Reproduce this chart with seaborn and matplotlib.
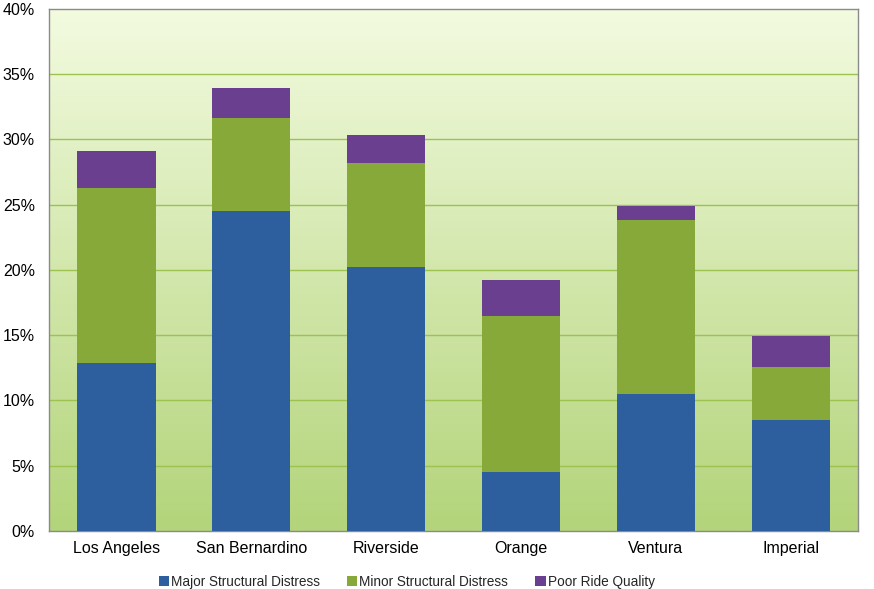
import numpy as np
import pandas as pd
import matplotlib
matplotlib.use('Agg')
import matplotlib.pyplot as plt
import seaborn as sns
from matplotlib.colors import LinearSegmentedColormap

# data (percent)
counties = ['Los Angeles', 'San Bernardino', 'Riverside', 'Orange', 'Ventura', 'Imperial']
major = [12.9, 24.5, 20.2, 4.5, 10.5, 8.5]
minor = [13.4, 7.1, 8.0, 12.0, 13.3, 4.1]
poor = [2.8, 2.3, 2.1, 2.7, 1.1, 2.3]
yticks = [0, 5, 10, 15, 20, 25, 30, 35, 40]

df = pd.DataFrame({'county': counties, 'major': major, 'minor': minor, 'poor': poor})
df['lvl1'] = df['major']
df['lvl2'] = df['major'] + df['minor']
df['lvl3'] = df['lvl2'] + df['poor']

sns.set_style('white')
plt.rcParams['font.family'] = ['Liberation Sans', 'DejaVu Sans']

fig = plt.figure(figsize=(8.74, 5.89), dpi=100)
ax = fig.add_axes([0.056, 0.0985, 0.926, 0.8865])

# gradient background of the plot area
bg = LinearSegmentedColormap.from_list('bg', ['#b3d47a', '#f3fbe0'])
grad = np.linspace(0, 1, 256).reshape(-1, 1)
ax.imshow(grad, cmap=bg, aspect='auto', origin='lower',
          extent=[-0.5, 5.5, 0, 40], zorder=0)

for y in yticks[1:-1]:
    ax.axhline(y, color='#9cc34f', lw=1, zorder=1)

# stacked bars: draw cumulative totals from top layer down
sns.barplot(data=df, x='county', y='lvl3', color='#6a3f90', width=0.58,
            saturation=1, ax=ax, zorder=2, linewidth=0, label='Poor Ride Quality')
sns.barplot(data=df, x='county', y='lvl2', color='#87a93a', width=0.58,
            saturation=1, ax=ax, zorder=3, linewidth=0, label='Minor Structural Distress')
sns.barplot(data=df, x='county', y='lvl1', color='#2d5f9f', width=0.58,
            saturation=1, ax=ax, zorder=4, linewidth=0, label='Major Structural Distress')

ax.set_xlim(-0.5, 5.5)
ax.set_ylim(0, 40)
ax.set_yticks(yticks)
ax.set_yticklabels([f'{v}%' for v in yticks])
ax.set_xlabel('')
ax.set_ylabel('')
ax.tick_params(axis='both', length=0, labelsize=11.5, colors='#000000')
ax.tick_params(axis='y', pad=10)
ax.tick_params(axis='x', pad=7)
for s in ax.spines.values():
    s.set_color('#8a8a8a')
    s.set_linewidth(1)
    s.set_visible(True)

handles, labels = ax.get_legend_handles_labels()
order = [labels.index(l) for l in ['Major Structural Distress', 'Minor Structural Distress', 'Poor Ride Quality']]
ax.legend([handles[i] for i in order], [labels[i] for i in order],
          loc='upper center', bbox_to_anchor=(0.442, -0.06), ncol=3, frameon=False,
          fontsize=9.8, handlelength=0.75, handleheight=0.75, handletextpad=0.15,
          columnspacing=2.0)

fig.savefig('out.png', dpi=100)
